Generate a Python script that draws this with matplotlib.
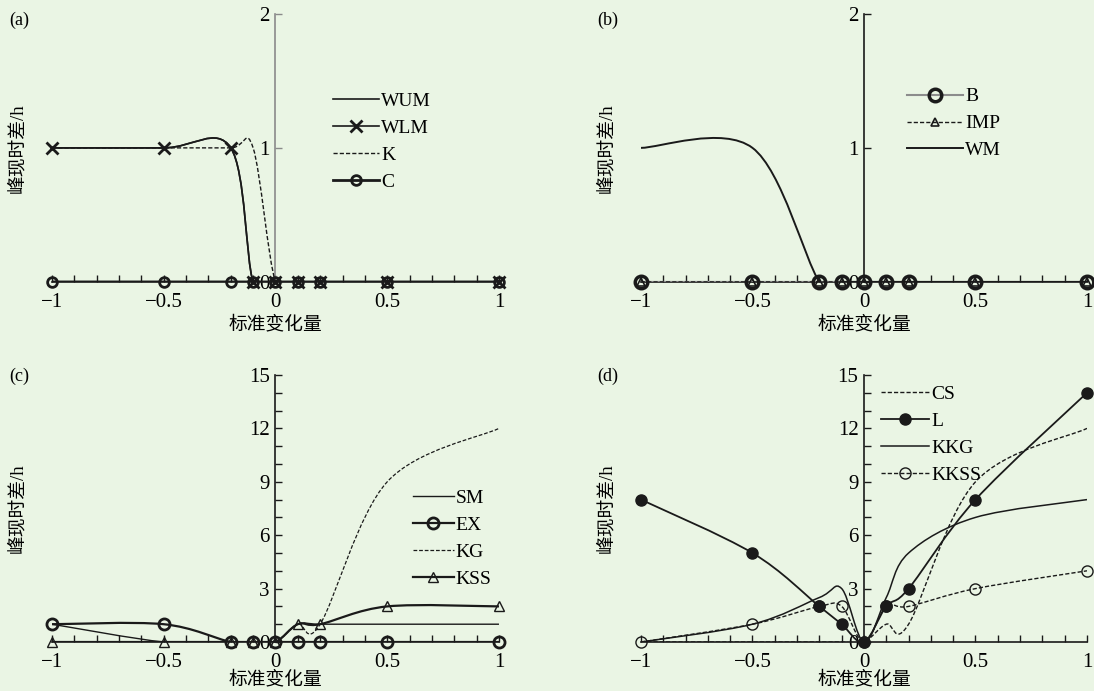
import numpy as np
import matplotlib
matplotlib.use("Agg")
import matplotlib.pyplot as plt
from matplotlib.path import Path
from matplotlib.patches import PathPatch
from matplotlib.lines import Line2D
from matplotlib.ticker import MultipleLocator, FuncFormatter

plt.rcParams['font.family'] = ['Liberation Serif', 'Noto Sans CJK SC']
plt.rcParams['font.size'] = 13

BG = '#eaf5e4'
INK = '#1a1a1a'

# standard change (x) shared by all panels
x = [-1, -0.5, -0.2, -0.1, 0, 0.1, 0.2, 0.5, 1]

# (a)
a_wum = [1, 1, 1, 0, 0, 0, 0, 0, 0]
a_wlm = [1, 1, 1, 0, 0, 0, 0, 0, 0]
a_k = [1, 1, 1, 1, 0, 0, 0, 0, 0]
a_c = [0, 0, 0, 0, 0, 0, 0, 0, 0]
# (b)
b_b = [0, 0, 0, 0, 0, 0, 0, 0, 0]
b_imp = [0, 0, 0, 0, 0, 0, 0, 0, 0]
b_wm = [1, 1, 0, 0, 0, 0, 0, 0, 0]
# (c)
c_sm = [1, 0, 0, 0, 0, 1, 1, 1, 1]
c_ex = [1, 1, 0, 0, 0, 0, 0, 0, 0]
c_kg = [0, 0, 0, 0, 0, 1, 1, 9, 12]
c_kss = [0, 0, 0, 0, 0, 1, 1, 2, 2]
# (d)
d_cs = [0, 0, 0, 0, 0, 1, 1, 9, 12]
d_l = [8, 5, 2, 1, 0, 2, 3, 8, 14]
d_kkg = [0, 1, 2.5, 3, 0, 2.5, 5, 7, 8]
d_kkss = [0, 1, 2, 2, 0, 2, 2, 3, 4]


def smooth_path(xs, ys):
    ''' Excel-like smoothed line: bezier segments through the points '''
    P = np.column_stack([xs, ys]).astype(float)
    n = len(P)
    verts = [P[0]]
    codes = [Path.MOVETO]
    for i in range(n - 1):
        p0 = P[i - 1] if i > 0 else P[i]
        p1, p2 = P[i], P[i + 1]
        p3 = P[i + 2] if i + 2 < n else P[i + 1]
        verts += [p1 + (p2 - p0) / 6, p2 - (p3 - p1) / 6, p2]
        codes += [Path.CURVE4] * 3
    return Path(verts, codes)


def series(ax, ys, lw=1.0, ls='-', color=INK, marker=None, ms=7, mew=1.5,
           mfc='none', mec=INK, zorder=3):
    ax.add_patch(PathPatch(smooth_path(x, ys), fill=False, lw=lw, ls=ls,
                           edgecolor=color, zorder=zorder, capstyle='butt'))
    if marker:
        ax.plot(x, ys, ls='none', marker=marker, ms=ms, mew=mew, mfc=mfc,
                mec=mec, clip_on=False, zorder=zorder + 1)
    return Line2D([], [], lw=lw, ls=ls, color=color, marker=marker, ms=ms,
                  mew=mew, mfc=mfc, mec=mec)


def fmt(v, pos):
    return ('%g' % v).replace('-', '\u2212')


def setup(ax, ymax, ymajor, yminor, spine_color, xlab_y):
    ax.set_facecolor('none')
    ax.set_xlim(-1, 1)
    ax.set_ylim(0, ymax)
    ax.spines['top'].set_visible(False)
    ax.spines['right'].set_visible(False)
    ax.spines['left'].set_position(('data', 0))
    ax.spines['left'].set_color(spine_color)
    ax.spines['bottom'].set_color(INK)
    ax.spines['left'].set_linewidth(1.2)
    ax.spines['bottom'].set_linewidth(1.2)
    ax.xaxis.set_major_locator(MultipleLocator(0.5))
    ax.xaxis.set_minor_locator(MultipleLocator(0.1))
    ax.yaxis.set_major_locator(MultipleLocator(ymajor))
    ax.yaxis.set_minor_locator(MultipleLocator(yminor))
    ax.xaxis.set_major_formatter(FuncFormatter(fmt))
    ax.yaxis.set_major_formatter(FuncFormatter(fmt))
    ax.tick_params(axis='x', which='both', direction='in', length=5, width=1,
                   color=INK, pad=8, labelsize=15)
    ax.tick_params(axis='y', which='both', direction='in', length=5, width=1,
                   color=spine_color, pad=4, labelsize=15)
    ax.set_xlabel('标准变化量', fontsize=13.5)
    ax.set_ylabel('峰现时差/h', fontsize=13.5)
    ax.xaxis.set_label_coords(0.5, xlab_y)
    ax.yaxis.set_label_coords(-0.058, 0.5)


fig = plt.figure(figsize=(10.94, 6.91), dpi=100, facecolor=BG)
ax_a = fig.add_axes([0.0475, 0.592, 0.4086, 0.388])
ax_b = fig.add_axes([0.5859, 0.592, 0.4077, 0.388])
ax_c = fig.add_axes([0.0475, 0.0709, 0.4086, 0.3864])
ax_d = fig.add_axes([0.5859, 0.0709, 0.4077, 0.3864])

setup(ax_a, 2, 1, 1, '#8a8a8a', -0.127)
setup(ax_b, 2, 1, 1, INK, -0.127)
setup(ax_c, 15, 3, 1, INK, -0.108)
setup(ax_d, 15, 3, 1, INK, -0.108)

leg_kw = dict(loc='upper left', bbox_transform=fig.transFigure, frameon=False,
              handletextpad=0.1, borderpad=0, borderaxespad=0, fontsize=14,
              labelspacing=0.48)

# (a)
h1 = series(ax_a, a_wum, lw=1.2)
h2 = series(ax_a, a_wlm, lw=1.2, marker='x', ms=8, mew=2)
h3 = series(ax_a, a_k, lw=1.0, ls=(0, (3, 1.5)))
h4 = series(ax_a, a_c, lw=2.0, marker='o', ms=7, mew=2)
ax_a.legend([h1, h2, h3, h4], ['WUM', 'WLM', 'K', 'C'],
            bbox_to_anchor=(0.304, 0.866), handlelength=2.4, **leg_kw)

# (b)
h1 = series(ax_b, b_b, lw=1.5, color='#8c8c8c', marker='o', ms=9, mew=2.5)
h2 = series(ax_b, b_imp, lw=1.0, ls=(0, (3, 1.5)), marker='^', ms=6, mew=1.2)
h3 = series(ax_b, b_wm, lw=1.4)
ax_b.legend([h1, h2, h3], ['B', 'IMP', 'WM'],
            bbox_to_anchor=(0.829, 0.873), handlelength=2.9, **leg_kw)

# (c)
h1 = series(ax_c, c_sm, lw=1.0)
h2 = series(ax_c, c_ex, lw=1.6, marker='o', ms=8, mew=2)
h3 = series(ax_c, c_kg, lw=0.9, ls=(0, (3, 1.5)))
h4 = series(ax_c, c_kss, lw=1.6, marker='^', ms=7, mew=1.0)
ax_c.legend([h1, h2, h3, h4], ['SM', 'EX', 'KG', 'KSS'],
            bbox_to_anchor=(0.3775, 0.292), handlelength=2.1, **leg_kw)

# (d)
h1 = series(ax_d, d_cs, lw=1.0, ls=(0, (3, 1.5)))
h2 = series(ax_d, d_l, lw=1.3, marker='o', ms=8, mew=1, mfc=INK)
h3 = series(ax_d, d_kkg, lw=1.1)
h4 = series(ax_d, d_kkss, lw=1.0, ls=(0, (3, 1.5)), marker='o', ms=8, mew=1)
ax_d.legend([h1, h2, h3, h4], ['CS', 'L', 'KKG', 'KKSS'],
            bbox_to_anchor=(0.805, 0.442), handlelength=2.5, **leg_kw)

for lab, (fx, fy) in zip(['(a)', '(b)', '(c)', '(d)'],
                         [(0.008, 0.971), (0.546, 0.971), (0.008, 0.455), (0.546, 0.455)]):
    fig.text(fx, fy, lab, fontsize=13, va='center', ha='left')

fig.savefig('out.png', dpi=100, facecolor=BG)
